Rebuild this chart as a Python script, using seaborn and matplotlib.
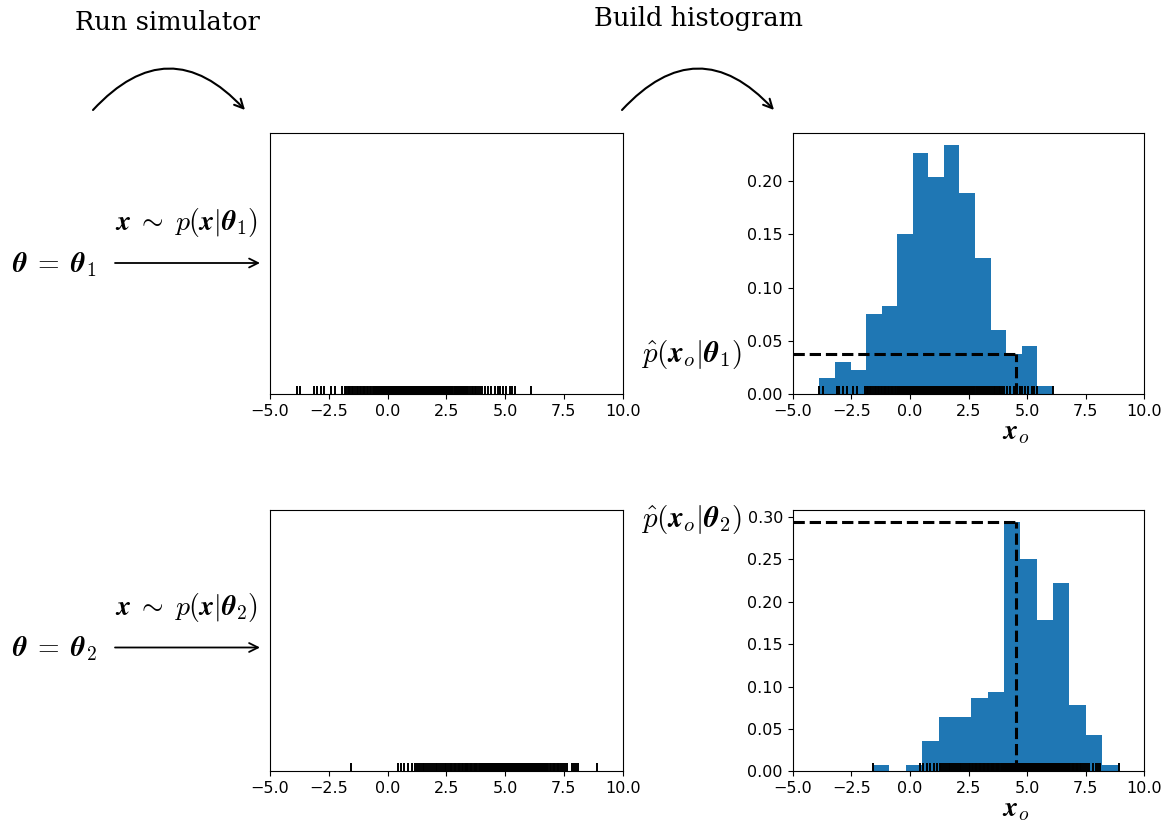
import numpy as np
import matplotlib
matplotlib.use("Agg")
import matplotlib.pyplot as plt
from matplotlib.patches import FancyArrowPatch
from matplotlib.transforms import blended_transform_factory
import seaborn as sns

# Simulator draws for the two parameter settings
samples_theta1 = [
    -3.86, -3.71,
    -3.13, -3.02, -2.85, -2.69,
    -2.41, -2.24, -1.92,
    -1.83, -1.77, -1.70, -1.64, -1.58, -1.51, -1.45, -1.38, -1.31, -1.24,
    -1.18, -1.12, -1.06, -1.01, -0.95, -0.89, -0.82, -0.76, -0.70, -0.64, -0.58,
    -0.52, -0.49, -0.45, -0.42, -0.38, -0.34, -0.31, -0.27, -0.22, -0.19,
    -0.15, -0.12, -0.08, -0.05, -0.02, 0.01, 0.03, 0.06, 0.08, 0.11,
    0.14, 0.16, 0.18, 0.21, 0.23, 0.25, 0.27, 0.30, 0.32, 0.34,
    0.36, 0.38, 0.40, 0.42, 0.44, 0.46, 0.48, 0.50, 0.52, 0.54,
    0.56, 0.58, 0.60, 0.62, 0.64, 0.66, 0.69, 0.71, 0.73, 0.76,
    0.80, 0.83, 0.85, 0.87, 0.90, 0.92, 0.94, 0.97, 0.99, 1.02,
    1.04, 1.06, 1.09, 1.11, 1.13, 1.16, 1.18, 1.20, 1.23, 1.25,
    1.28, 1.30, 1.33, 1.35, 1.37, 1.40, 1.43,
    1.46, 1.48, 1.50, 1.52, 1.54, 1.56, 1.58, 1.60, 1.62, 1.64,
    1.66, 1.68, 1.71, 1.73, 1.75, 1.77, 1.79, 1.81, 1.83, 1.85,
    1.87, 1.89, 1.91, 1.93, 1.95, 1.97, 1.99, 2.02, 2.04, 2.07, 2.10,
    2.13, 2.16, 2.18, 2.21, 2.23, 2.26, 2.28, 2.31, 2.33, 2.36,
    2.38, 2.41, 2.43, 2.46, 2.48, 2.51, 2.53, 2.56, 2.58, 2.61,
    2.63, 2.66, 2.69, 2.72, 2.75,
    2.81, 2.85, 2.88, 2.92, 2.96, 3.00, 3.03, 3.07, 3.11, 3.14,
    3.18, 3.22, 3.26, 3.30, 3.33, 3.37, 3.41,
    3.49, 3.57, 3.63, 3.72, 3.78, 3.86, 3.92, 4.02,
    4.16, 4.28, 4.42, 4.55, 4.68,
    4.80, 4.92, 5.04, 5.20, 5.31, 5.41,
    6.10,
]

samples_theta2 = [
    -1.57,
    0.45,
    0.58, 0.71, 0.86, 1.02, 1.15,
    1.27, 1.34, 1.42, 1.50, 1.57, 1.65, 1.72, 1.80, 1.88,
    1.97, 2.05, 2.12, 2.20, 2.28, 2.35, 2.43, 2.50, 2.58,
    2.65, 2.70, 2.76, 2.82, 2.87, 2.93, 2.99, 3.04, 3.10, 3.16, 3.22, 3.28,
    3.34, 3.39, 3.44, 3.50, 3.55, 3.60, 3.66, 3.71, 3.76, 3.82, 3.87, 3.92, 3.98,
    4.03, 4.04, 4.06, 4.07, 4.09, 4.11, 4.12, 4.14, 4.16, 4.17,
    4.19, 4.21, 4.22, 4.24, 4.26, 4.27, 4.29, 4.31, 4.32, 4.34,
    4.36, 4.37, 4.39, 4.41, 4.42, 4.44, 4.46, 4.47, 4.49, 4.51,
    4.52, 4.54, 4.56, 4.57, 4.59, 4.61, 4.62, 4.64, 4.66, 4.67, 4.69,
    4.73, 4.75, 4.77, 4.79, 4.81, 4.83, 4.85, 4.87, 4.89, 4.91,
    4.93, 4.95, 4.97, 4.99, 5.01, 5.03, 5.05, 5.07, 5.09, 5.11,
    5.13, 5.15, 5.17, 5.19, 5.21, 5.23, 5.25, 5.27, 5.29, 5.31,
    5.33, 5.35, 5.37, 5.38, 5.39,
    5.43, 5.46, 5.49, 5.52, 5.54, 5.57, 5.60, 5.63, 5.66, 5.68,
    5.71, 5.74, 5.77, 5.80, 5.82, 5.85, 5.88, 5.91, 5.94, 5.96,
    5.99, 6.02, 6.04, 6.06, 6.09,
    6.12, 6.14, 6.16, 6.19, 6.21, 6.23, 6.25, 6.28, 6.30, 6.32,
    6.34, 6.37, 6.39, 6.41, 6.43, 6.46, 6.48, 6.50, 6.52, 6.55,
    6.57, 6.59, 6.61, 6.64, 6.66, 6.68, 6.70, 6.73, 6.75, 6.77, 6.79,
    6.84, 6.90, 6.96, 7.02, 7.07, 7.13, 7.19, 7.25, 7.31, 7.38, 7.45,
    7.56, 7.62, 7.83, 7.95, 8.03, 8.12,
    8.90,
]

x_observed = 4.53
n_bins = 15
x_range = (-5.0, 10.0)
x_ticks = [-5.0, -2.5, 0.0, 2.5, 5.0, 7.5, 10.0]
hist_color = "#1f77b4"

plt.rcParams["mathtext.fontset"] = "cm"
plt.rcParams["xtick.labelsize"] = 11.5
plt.rcParams["ytick.labelsize"] = 11.5

W, H = 1170, 825
fig = plt.figure(figsize=(W / 100, H / 100), dpi=100)


def fx(px):
    return px / W


def fy(py):
    return 1 - py / H


def add_axes_px(x0, y0, x1, y1):
    return fig.add_axes([fx(x0), fy(y1), fx(x1) - fx(x0), (y1 - y0) / H])


rows = [
    (samples_theta1, 132.7, 394.3, "1", 0.0),
    (samples_theta2, 510.0, 771.3, "2", -0.012),
]

for samples, top, bottom, idx, label_shift in rows:
    samples = np.asarray(samples)

    # simulator output: rug of draws only
    ax_sim = add_axes_px(270.0, top, 622.7, bottom)
    sns.rugplot(x=samples, ax=ax_sim, height=0.032, color="k",
                linewidth=1.4, expand_margins=False)
    ax_sim.set_xlim(*x_range)
    ax_sim.set_xticks(x_ticks)
    ax_sim.set_yticks([])
    ax_sim.set_xlabel("")
    ax_sim.set_ylabel("")

    # histogram estimate of the likelihood
    ax_hist = add_axes_px(792.7, top, 1144.3, bottom)
    sns.histplot(x=samples, bins=n_bins, stat="density", ax=ax_hist,
                 color=hist_color, alpha=1.0, linewidth=0)
    sns.rugplot(x=samples, ax=ax_hist, height=0.032, color="k",
                linewidth=1.4, expand_margins=False)
    ax_hist.set_xlim(*x_range)
    ax_hist.set_xticks(x_ticks)
    ax_hist.set_xlabel("")
    ax_hist.set_ylabel("")

    dens, edges = np.histogram(samples, bins=n_bins, density=True)
    k = np.clip(np.searchsorted(edges, x_observed, side="right") - 1, 0, n_bins - 1)
    p_hat = dens[k]
    ax_hist.plot([x_observed, x_observed], [0, p_hat], "k--", lw=2.2)
    ax_hist.plot([x_range[0], x_observed], [p_hat, p_hat], "k--", lw=2.2,
                 clip_on=False)

    trans = blended_transform_factory(ax_hist.transAxes, ax_hist.transAxes)
    y_axes = ax_hist.transAxes.inverted().transform(
        ax_hist.transData.transform((0, p_hat)))[1]
    ax_hist.text(-0.144, y_axes - label_shift,
                 r"$\hat{p}(\boldsymbol{x}_o|\boldsymbol{\theta}_" + idx + r")$",
                 transform=trans, ha="right", va="center", fontsize=21)
    xo_trans = blended_transform_factory(ax_hist.transData, ax_hist.transAxes)
    ax_hist.text(x_observed, -0.092, r"$\boldsymbol{x}_o$", transform=xo_trans,
                 ha="center", va="top", fontsize=20)

# parameter settings and sampling arrows on the left
for base, idx in [(0.0, "1"), (384.5, "2")]:
    fig.text(fx(12), fy(272 + base),
             r"$\boldsymbol{\theta}\;=\;\boldsymbol{\theta}_" + idx + "$",
             ha="left", va="baseline", fontsize=20)
    fig.text(fx(258), fy(230 + base),
             r"$\boldsymbol{x}\;\sim\;p(\boldsymbol{x}|\boldsymbol{\theta}_" + idx + r")$",
             ha="right", va="baseline", fontsize=20)
    fig.add_artist(FancyArrowPatch(
        (fx(115), fy(263 + base)), (fx(260), fy(263 + base)),
        transform=fig.transFigure, arrowstyle="->", mutation_scale=16,
        lw=1.3, color="k", shrinkA=0, shrinkB=0))

# step captions with curved arrows
for label, cx, base_y, x0, x1 in [("Run simulator", 167, 30, 93, 245),
                                  ("Build histogram", 698, 26, 622, 774)]:
    fig.text(fx(cx), fy(base_y), label, ha="center", va="baseline",
             fontsize=18.5, family="DejaVu Serif")
    fig.add_artist(FancyArrowPatch(
        (fx(x0), fy(110)), (fx(x1), fy(110)),
        transform=fig.transFigure, connectionstyle="arc3,rad=-0.54",
        arrowstyle="->", mutation_scale=16, lw=1.5, color="k",
        shrinkA=0, shrinkB=0))

fig.savefig("out.png", dpi=100)
